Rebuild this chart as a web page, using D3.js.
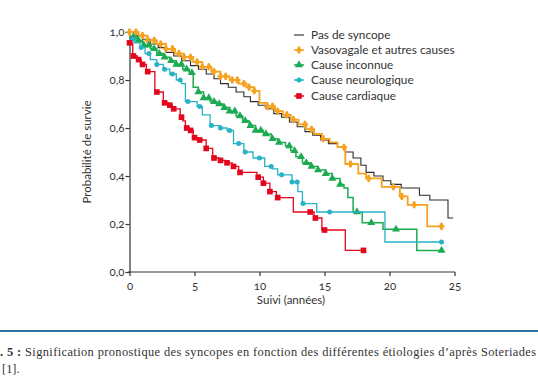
<!DOCTYPE html>
<html><head><meta charset="utf-8">
<script src="https://cdn.jsdelivr.net/npm/d3@7"></script>
<style>
body{margin:0;background:#fff;}
svg text{font-family:Lato,"Open Sans",sans-serif;font-variant-numeric:oldstyle-nums;fill:#333;}
</style></head><body>
<svg id="c" width="538" height="384"></svg>
<script>
// ---- data ----
const xTicks = [0,5,10,15,20,25];
const yTicks = [0,0.2,0.4,0.6,0.8,1.0];
const seriesNames = ["Pas de syncope","Vasovagale et autres causes","Cause inconnue","Cause neurologique","Cause cardiaque"];

const stepsNone = [[0,1.0],[0.5,0.985],[1,0.97],[1.6,0.95],[2.2,0.935],[2.8,0.915],[3.4,0.9],[4,0.88],[4.7,0.86],[5.3,0.845],[5.9,0.825],[6.5,0.805],[7,0.785],[7.6,0.77],[8.2,0.75],[8.8,0.73],[9.3,0.71],[9.9,0.695],[10.5,0.68],[11.1,0.66],[11.7,0.645],[12.3,0.625],[12.9,0.605],[13.5,0.585],[14.1,0.57],[14.7,0.55],[15.3,0.535],[16.0,0.52],[16.6,0.5],[17.2,0.475],[17.8,0.445],[18.2,0.415],[18.8,0.4],[19.5,0.38],[20.1,0.365],[20.9,0.35],[22.3,0.32],[23.1,0.3],[24.5,0.225]];
const endNone = 24.9;

const stepsVaso = [[0,1.0],[0.7,0.985],[1.4,0.965],[2.1,0.95],[2.8,0.93],[3.5,0.91],[4.2,0.895],[4.9,0.875],[5.6,0.855],[6.3,0.835],[7.0,0.815],[7.7,0.8],[8.4,0.785],[9.0,0.77],[9.6,0.755],[10.0,0.705],[10.6,0.69],[11.2,0.67],[11.8,0.655],[12.4,0.635],[13.0,0.615],[13.6,0.595],[14.2,0.575],[14.8,0.555],[15.4,0.54],[16.0,0.52],[16.6,0.45],[17.6,0.41],[18.2,0.39],[19.4,0.355],[20.8,0.315],[21.4,0.28],[22.9,0.19]];
const endVaso = 24.0;
const censorVaso = [0,0.5,1.0,1.4,1.9,2.4,2.8,3.3,3.8,4.2,4.7,5.2,5.6,6.1,6.5,7.0,7.4,7.9,8.3,8.8,9.2,9.6,10.6,11.0,11.4,12.1,12.6,13.5,14.0,14.9,16.5,17.0,18.4,20.3,20.95,21.9,24.0];

const stepsUnknown = [[0,0.98],[0.6,0.965],[1.0,0.945],[1.6,0.93],[2.1,0.91],[2.6,0.895],[3.1,0.88],[3.6,0.865],[4.1,0.845],[4.6,0.83],[4.9,0.77],[5.3,0.75],[5.7,0.725],[6.2,0.71],[6.7,0.7],[7.2,0.685],[7.7,0.67],[8.2,0.65],[8.7,0.63],[9.2,0.61],[9.7,0.59],[10.3,0.575],[10.9,0.555],[11.4,0.54],[12.0,0.525],[12.4,0.505],[12.8,0.48],[13.3,0.455],[13.9,0.44],[14.5,0.425],[15.1,0.41],[15.6,0.39],[16.2,0.365],[16.5,0.35],[16.8,0.31],[17.2,0.25],[17.9,0.205],[19.5,0.178],[22.1,0.09]];
const endUnknown = 24.0;
const censorUnknown = [0.3,0.7,1.1,1.5,1.9,2.3,2.7,3.2,3.6,4.0,4.4,4.8,5.3,5.7,6.1,6.5,6.9,7.3,7.7,8.1,8.5,8.9,9.3,9.7,10.1,10.5,11.0,11.5,12.3,12.7,13.2,13.6,14.0,14.5,15.1,15.6,16.2,17.5,18.6,20.5,24.0];

const stepsNeuro = [[0,0.97],[0.4,0.955],[0.8,0.935],[1.2,0.91],[1.6,0.885],[2.1,0.865],[2.6,0.845],[3.1,0.825],[3.6,0.8],[4.0,0.785],[4.3,0.71],[5.2,0.69],[5.6,0.655],[6.2,0.61],[7.0,0.6],[7.5,0.59],[8.0,0.535],[8.8,0.5],[9.5,0.475],[10.4,0.44],[11.0,0.43],[11.4,0.405],[12.5,0.375],[12.95,0.335],[13.3,0.285],[14.4,0.25],[19.65,0.125]];
const endNeuro = 24.0;
const censorNeuro = [0.3,0.9,1.5,2.1,2.7,3.3,3.9,4.5,5.4,6.3,7.0,7.7,8.4,8.9,10.0,10.9,11.7,12.5,12.9,13.35,15.4,24.0];

const stepsCardiac = [[0,0.955],[0.25,0.9],[0.6,0.885],[0.9,0.865],[1.3,0.835],[1.95,0.75],[2.6,0.705],[3.0,0.695],[3.3,0.68],[3.9,0.645],[4.1,0.63],[4.3,0.6],[4.6,0.59],[4.9,0.56],[5.3,0.55],[5.9,0.515],[6.4,0.475],[6.9,0.465],[7.4,0.455],[7.9,0.44],[8.4,0.415],[9.8,0.395],[10.3,0.37],[10.8,0.335],[11.3,0.31],[12.6,0.25],[14.2,0.225],[14.8,0.175],[16.6,0.09]];
const endCardiac = 18.0;
const censorCardiac = [0,0.3,0.7,1.0,1.4,2.1,2.7,3.1,3.4,4.0,4.4,4.7,5.0,5.4,5.9,6.5,7.0,7.5,8.0,8.5,9.9,10.3,10.8,11.4,13.9,14.3,15.0,18.0];

// ---- drawing ----
const svg = d3.select("#c");
const x = d3.scaleLinear([0,25],[129.5,454.5]);
const y = d3.scaleLinear([0,1],[272,32]);
const fmt = d => d.toFixed(1).replace(".", ",");

const series = [
  {name:seriesNames[0], steps:stepsNone, end:endNone, censor:[], color:"#2b2b2b", sym:null, w:1.1},
  {name:seriesNames[1], steps:stepsVaso, end:endVaso, censor:censorVaso, color:"#f5a221", sym:"cross", w:1.8},
  {name:seriesNames[2], steps:stepsUnknown, end:endUnknown, censor:censorUnknown, color:"#1dab52", sym:d3.symbolTriangle, w:1.5},
  {name:seriesNames[3], steps:stepsNeuro, end:endNeuro, censor:censorNeuro, color:"#27b2c6", sym:d3.symbolCircle, w:1.3},
  {name:seriesNames[4], steps:stepsCardiac, end:endCardiac, censor:censorCardiac, color:"#e3061c", sym:d3.symbolSquare, w:1.3}
];

const stepAt = (steps,t) => { let v = steps[0][1]; for (const s of steps) if (s[0] <= t) v = s[1]; return v; };

// axes
const gx = svg.append("g").attr("transform","translate(0,272)")
  .call(d3.axisBottom(x).tickValues(xTicks).tickSize(4).tickSizeOuter(0).tickFormat(d3.format("d")));
const gy = svg.append("g").attr("transform","translate(129.5,0)")
  .call(d3.axisLeft(y).tickValues(yTicks).tickSize(4).tickSizeOuter(0).tickFormat(fmt));
[gx,gy].forEach(g=>{
  g.select(".domain").attr("stroke","#333").attr("stroke-width",1.2);
  g.selectAll(".tick line").attr("stroke","#333").attr("stroke-width",1.2);
  g.selectAll(".tick text").attr("fill","#333").style("font-size","11.5px").style("font-family","Lato");
});
gx.selectAll(".tick text").attr("dy","0.95em");
gy.selectAll(".tick text").attr("x",-5);
gx.select(".domain").attr("d","M128,0H455");

svg.append("text").attr("x",291).attr("y",304).attr("text-anchor","middle")
  .style("font-size","11.5px").text("Suivi (années)");
svg.append("text").attr("transform","translate(91,152) rotate(-90)").attr("text-anchor","middle")
  .style("font-size","11.5px").text("Probabilité de survie");

const line = d3.line().x(d=>x(d[0])).y(d=>y(d[1])).curve(d3.curveStepAfter);

function marker(g, s, cx, cy){
  if (!s.sym) return;
  if (s.sym === "cross") {
    g.append("path").attr("d", `M${cx-3.2},${cy}H${cx+3.2}`).attr("stroke",s.color).attr("stroke-width",1.8);
    g.append("ellipse").attr("cx",cx).attr("cy",cy).attr("rx",1.8).attr("ry",3.8).attr("fill",s.color);
  } else {
    const size = s.sym===d3.symbolSquare ? 32 : s.sym===d3.symbolTriangle ? 28 : 20;
    g.append("path").attr("d", d3.symbol(s.sym,size)()).attr("transform",`translate(${cx},${cy})`).attr("fill",s.color);
  }
}

[0,1,2,3,4].forEach(i=>{
  const s = series[i];
  const pts = s.steps.concat([[s.end, s.steps[s.steps.length-1][1]]]);
  const g = svg.append("g");
  g.append("path").attr("d", line(pts)).attr("fill","none").attr("stroke",s.color).attr("stroke-width",s.w);
  s.censor.forEach(t=> marker(g, s, x(t), y(stepAt(s.steps,t))));
});

// legend
const lg = svg.append("g");
const rowsY = [35,50,65,80,96];
series.forEach((s,i)=>{
  const yy = rowsY[i];
  lg.append("path").attr("d",`M294,${yy}H304`).attr("stroke",s.color).attr("stroke-width",s.sym?1.5:1.1);
  marker(lg, s, 299, yy);
  lg.append("text").attr("x",311).attr("y",yy).attr("dy","0.35em").style("font-size","11.8px").text(s.name);
});

// separator line and caption
svg.append("line").attr("x1",0).attr("x2",538).attr("y1",331).attr("y2",331).attr("stroke","#2f729c").attr("stroke-width",1.8);
const cap = svg.append("text").attr("x",0).attr("y",356)
  .attr("textLength",536).attr("lengthAdjust","spacing")
  .style("font-family","'Liberation Serif','DejaVu Serif',serif").style("font-size","12.4px");
cap.append("tspan").style("font-weight","bold").text(". 5 :");
cap.append("tspan").text(" Signification pronostique des syncopes en fonction des différentes étiologies d’après Soteriades");
svg.append("text").attr("x",2).attr("y",373).style("font-family","'Liberation Serif','DejaVu Serif',serif").style("font-size","12.4px").text("[1].");
</script>
</body></html>
